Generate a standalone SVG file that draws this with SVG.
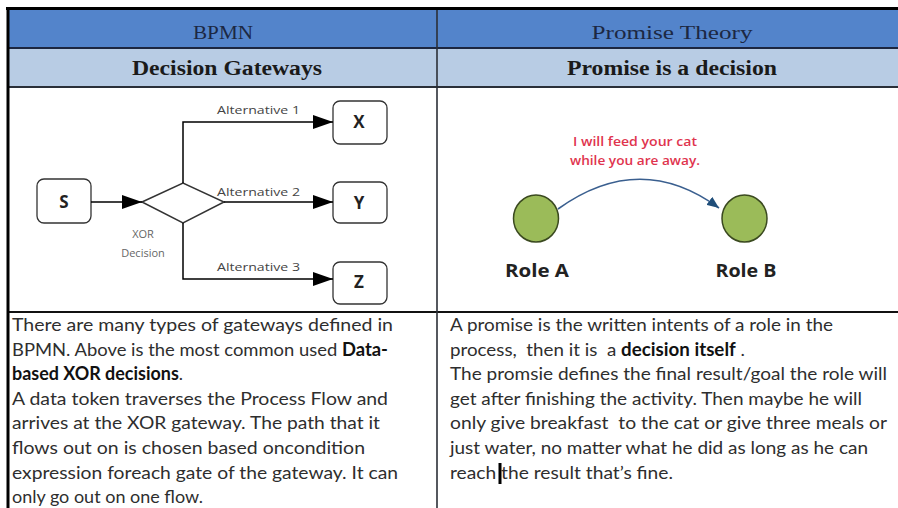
<svg xmlns="http://www.w3.org/2000/svg" width="898" height="508" viewBox="0 0 898 508">
  <defs>
    <marker id="bpmnArrow" markerUnits="userSpaceOnUse" markerWidth="20" markerHeight="16" refX="20" refY="8" orient="auto">
      <path d="M0,1 L20,8 L0,15 Z" fill="#000"/>
    </marker>
    <marker id="promiseArrow" markerUnits="userSpaceOnUse" markerWidth="12" markerHeight="10" refX="12" refY="5" orient="auto">
      <path d="M0,0 L12,5 L0,10 Z" fill="#1f4e7a"/>
    </marker>
    <style>
      .hdr { font-family: "Liberation Serif", "DejaVu Serif", serif; font-size: 18px; fill: #1c2843; text-anchor: middle; }
      .sub { font-family: "Liberation Serif", "DejaVu Serif", serif; font-size: 20px; font-weight: bold; fill: #1a1a1a; text-anchor: middle; }
      .box { fill: #fff; stroke: #333; stroke-width: 1.3; }
      .letter { font-family: "Open Sans", "Liberation Sans", sans-serif; font-size: 17px; font-weight: bold; fill: #222; text-anchor: middle; }
      .alt { font-family: "Open Sans", "Liberation Sans", sans-serif; font-size: 11.5px; fill: #444; }
      .xor { font-family: "Open Sans", "Liberation Sans", sans-serif; font-size: 11px; fill: #666; text-anchor: middle; }
      .flow { fill: none; stroke: #000; stroke-width: 1.5; }
      .role { fill: #9bbb59; stroke: #3b4a20; stroke-width: 1.5; }
      .roleLbl { font-family: "Open Sans", "Liberation Sans", sans-serif; font-size: 18px; font-weight: bold; fill: #222; text-anchor: middle; }
      .promise { font-family: "Open Sans", "Liberation Sans", sans-serif; font-size: 12px; font-weight: 600; fill: #e0344e; text-anchor: middle; }
      .body { font-family: "Lato", "Liberation Sans", sans-serif; font-size: 18px; fill: #2e2e2e; white-space: pre; }
      .b { font-weight: bold; fill: #111; }
    </style>
  </defs>

  <rect x="0" y="0" width="898" height="508" fill="#fff"/>

  <g id="table">
    <rect x="8" y="9" width="890" height="39" fill="#5384cb"/>
    <rect x="8" y="48" width="890" height="39" fill="#b8cce4"/>
    <line x1="8" y1="48" x2="898" y2="48" stroke="#1c2640" stroke-width="2"/>
    <line x1="8" y1="87" x2="898" y2="87" stroke="#2a2f38" stroke-width="2"/>
    <line x1="8" y1="312" x2="898" y2="312" stroke="#111" stroke-width="2"/>
    <line x1="437" y1="9" x2="437" y2="508" stroke="#2b2f36" stroke-width="1.6"/>
    <line x1="6" y1="8.5" x2="898" y2="8.5" stroke="#000" stroke-width="3"/>
    <line x1="8" y1="7" x2="8" y2="508" stroke="#000" stroke-width="3"/>
  </g>

  <g id="headers">
    <text class="hdr" x="223" y="39" textLength="60" lengthAdjust="spacingAndGlyphs">BPMN</text>
    <text class="hdr" x="672" y="39" textLength="161" lengthAdjust="spacingAndGlyphs">Promise Theory</text>
    <text class="sub" x="227" y="75" textLength="190" lengthAdjust="spacingAndGlyphs">Decision Gateways</text>
    <text class="sub" x="672" y="75" textLength="210" lengthAdjust="spacingAndGlyphs">Promise is a decision</text>
  </g>

  <g id="node-S">
    <rect class="box" x="37" y="179" width="54" height="44" rx="7"/>
    <text class="letter" x="64" y="208">S</text>
  </g>
  <g id="node-gateway">
    <polygon points="142,202 183,183 224,202 183,223" fill="#fff" stroke="#333" stroke-width="1.5"/>
    <text class="xor" x="143" y="238">XOR</text>
    <text class="xor" x="143" y="257">Decision</text>
  </g>
  <g id="node-X">
    <rect class="box" x="333" y="101" width="54" height="43" rx="7"/>
    <text class="letter" x="359" y="128">X</text>
  </g>
  <g id="node-Y">
    <rect class="box" x="333" y="182" width="54" height="41" rx="7"/>
    <text class="letter" x="359" y="209">Y</text>
  </g>
  <g id="node-Z">
    <rect class="box" x="333" y="262" width="54" height="42" rx="7"/>
    <text class="letter" x="359" y="288">Z</text>
  </g>

  <g id="node-roleA">
    <ellipse class="role" cx="536" cy="218.5" rx="22.5" ry="23.5"/>
    <text class="roleLbl" x="537" y="277" textLength="64" lengthAdjust="spacingAndGlyphs">Role A</text>
  </g>
  <g id="node-roleB">
    <ellipse class="role" cx="744.5" cy="218.5" rx="22.5" ry="23.5"/>
    <text class="roleLbl" x="746" y="277" textLength="61" lengthAdjust="spacingAndGlyphs">Role B</text>
  </g>

  <g id="connectors">
    <line class="flow" x1="91" y1="202" x2="142" y2="202" marker-end="url(#bpmnArrow)"/>
    <path class="flow" d="M183,183 V122 H333" marker-end="url(#bpmnArrow)"/>
    <path class="flow" d="M224,202 H333" marker-end="url(#bpmnArrow)"/>
    <path class="flow" d="M183,223 V279 H333" marker-end="url(#bpmnArrow)"/>
    <text class="alt" x="217" y="114" textLength="83" lengthAdjust="spacingAndGlyphs">Alternative 1</text>
    <text class="alt" x="217" y="196" textLength="83" lengthAdjust="spacingAndGlyphs">Alternative 2</text>
    <text class="alt" x="217" y="271" textLength="83" lengthAdjust="spacingAndGlyphs">Alternative 3</text>
    <path d="M558,209 Q640,150 719,208" fill="none" stroke="#3a5f8f" stroke-width="1.6" marker-end="url(#promiseArrow)"/>
    <text class="promise" x="635" y="146" textLength="124" lengthAdjust="spacingAndGlyphs">I will feed your cat</text>
    <text class="promise" x="635" y="165" textLength="130" lengthAdjust="spacingAndGlyphs">while you are away.</text>
  </g>

  <g id="text-bpmn">
    <text class="body" x="12" y="331" textLength="381" lengthAdjust="spacingAndGlyphs">There are many types of gateways defined in</text>
    <text class="body" x="12" y="355.6" textLength="376" lengthAdjust="spacingAndGlyphs">BPMN. Above is the most common used <tspan class="b">Data-</tspan></text>
    <text class="body" x="12" y="380.2" textLength="171" lengthAdjust="spacingAndGlyphs"><tspan class="b">based XOR decisions</tspan>.</text>
    <text class="body" x="12" y="404.8" textLength="376" lengthAdjust="spacingAndGlyphs">A data token traverses the Process Flow and</text>
    <text class="body" x="12" y="429.4" textLength="368" lengthAdjust="spacingAndGlyphs">arrives at the XOR gateway. The path that it</text>
    <text class="body" x="12" y="454" textLength="353" lengthAdjust="spacingAndGlyphs">flows out on is chosen based oncondition</text>
    <text class="body" x="12" y="478.6" textLength="386" lengthAdjust="spacingAndGlyphs">expression foreach gate of the gateway. It can</text>
    <text class="body" x="12" y="503.2" textLength="191" lengthAdjust="spacingAndGlyphs">only go out on one flow.</text>
  </g>

  <g id="text-promise">
    <text class="body" x="450" y="331" textLength="383" lengthAdjust="spacingAndGlyphs">A promise is the written intents of a role in the</text>
    <text class="body" x="450" y="355.6" textLength="295" lengthAdjust="spacingAndGlyphs">process,  then it is  a <tspan class="b">decision itself</tspan> .</text>
    <text class="body" x="450" y="380.2" textLength="437" lengthAdjust="spacingAndGlyphs">The promsie defines the final result/goal the role will</text>
    <text class="body" x="450" y="404.8" textLength="412" lengthAdjust="spacingAndGlyphs">get after finishing the activity. Then maybe he will</text>
    <text class="body" x="450" y="429.4" textLength="437" lengthAdjust="spacingAndGlyphs">only give breakfast  to the cat or give three meals or</text>
    <text class="body" x="450" y="454" textLength="418" lengthAdjust="spacingAndGlyphs">just water, no matter what he did as long as he can</text>
    <text class="body" x="450" y="478.6" textLength="223" lengthAdjust="spacingAndGlyphs">reach the result that’s fine.</text>
    <rect x="498.5" y="463" width="3" height="21" fill="#000"/>
  </g>
</svg>
